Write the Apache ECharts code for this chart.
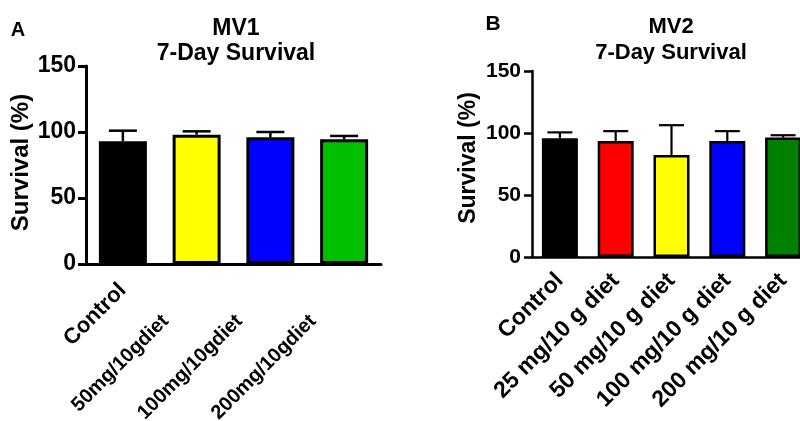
<!DOCTYPE html>
<html>
<head>
<meta charset="utf-8">
<script src="https://cdn.jsdelivr.net/npm/echarts@6/dist/echarts.min.js"></script>
<style>html,body{margin:0;padding:0;background:#fff;}#c{width:800px;height:421px;}</style>
</head>
<body>
<div id="c"></div>
<script>
// Panel A (MV1)
const catsA = ['Control', '50mg/10gdiet', '100mg/10gdiet', '200mg/10gdiet'];
const meanA = [93, 98, 96, 94.5];
const upperA = [101, 100.5, 100, 97];
const colorsA = ['#000000', '#ffff00', '#0000ff', '#00c000'];
// Panel B (MV2)
const catsB = ['Control', '25 mg/10 g diet', '50 mg/10 g diet', '100 mg/10 g diet', '200 mg/10 g diet'];
const meanB = [95.7, 93.5, 82.3, 93.5, 96.3];
const upperB = [100.5, 101.5, 106.3, 101.5, 98.2];
const colorsB = ['#000000', '#ff0000', '#ffff00', '#0000ff', '#008000'];
const yTicks = [0, 50, 100, 150];

const FONT = 'Liberation Sans, Arial, sans-serif';
const chart = echarts.init(document.getElementById('c'));

function errSeries(idx, means, uppers, half, lw) {
  return {
    type: 'custom', xAxisIndex: idx, yAxisIndex: idx, z: 5,
    data: means.map((m, i) => [i, m, uppers[i]]),
    renderItem: function (params, api) {
      const base = api.coord([api.value(0), api.value(1)]);
      const top = api.coord([api.value(0), api.value(2)]);
      const st = { stroke: '#000', lineWidth: lw, fill: null };
      return {
        type: 'group',
        children: [
          { type: 'line', shape: { x1: top[0], y1: base[1], x2: top[0], y2: top[1] }, style: st },
          { type: 'line', shape: { x1: top[0] - half, y1: top[1], x2: top[0] + half, y2: top[1] }, style: st }
        ]
      };
    }
  };
}

function yAxisCfg(idx, fs, nameFs, gap, lw, margin, shift) {
  return {
    gridIndex: idx, type: 'value', min: 0, max: 150, interval: 50,
    name: 'Survival (%)', nameLocation: 'middle', nameGap: gap, nameRotate: 90,
    nameTextStyle: { fontSize: nameFs, fontWeight: 'bold', color: '#000', fontFamily: FONT, padding: [0, 0, 0, shift] },
    axisLine: { show: true, lineStyle: { color: '#000', width: lw } },
    axisTick: { show: true, length: 8, lineStyle: { color: '#000', width: lw } },
    splitLine: { show: false },
    axisLabel: { fontSize: fs, fontWeight: 'bold', color: '#000', fontFamily: FONT, margin: margin,
      formatter: v => yTicks.indexOf(v) >= 0 ? String(v) : '' }
  };
}

const option = {
  animation: false,
  backgroundColor: '#fff',
  grid: [
    { left: 86, right: 419, top: 66, bottom: 157, outerBoundsMode: 'none', containLabel: false },
    { left: 532, right: -11, top: 71, bottom: 164, outerBoundsMode: 'none', containLabel: false }
  ],
  xAxis: [
    {
      gridIndex: 0, type: 'category', data: catsA,
      axisLine: { lineStyle: { color: '#000', width: 3 } },
      axisTick: { alignWithLabel: true, length: 7, lineStyle: { color: '#000', width: 3 } },
      axisLabel: {
        interval: 0, rotate: 45, margin: 23,
        fontSize: 20, fontWeight: 'bold', color: '#000', fontFamily: FONT,
        formatter: (v, i) => i === 0 ? '{a|' + v + '}' : '{p|' + v + '}',
        rich: {
          a: { fontSize: 22, fontWeight: 'bold', color: '#000', fontFamily: FONT },
          p: { fontSize: 20, fontWeight: 'bold', color: '#000', fontFamily: FONT, padding: [0, 44, 0, 0] }
        }
      }
    },
    {
      gridIndex: 1, type: 'category', data: catsB,
      axisLine: { lineStyle: { color: '#000', width: 2.5 } },
      axisTick: { alignWithLabel: true, length: 7, lineStyle: { color: '#000', width: 2.5 } },
      axisLabel: { interval: 0, rotate: 45, margin: 20,
        fontSize: 23, fontWeight: 'bold', color: '#000', fontFamily: FONT }
    }
  ],
  yAxis: [
    yAxisCfg(0, 23, 24, 53, 3, 10, 5),
    yAxisCfg(1, 21, 23, 52, 2.5, 11, 12)
  ],
  series: [
    {
      type: 'bar', xAxisIndex: 0, yAxisIndex: 0, barWidth: 48,
      data: meanA.map((v, i) => ({ value: v, itemStyle: { color: colorsA[i] } })),
      itemStyle: { borderColor: '#000', borderWidth: 3 }
    },
    errSeries(0, meanA, upperA, 14, 2.5),
    {
      type: 'bar', xAxisIndex: 1, yAxisIndex: 1, barWidth: 36,
      data: meanB.map((v, i) => ({ value: v, itemStyle: { color: colorsB[i] } })),
      itemStyle: { borderColor: '#000', borderWidth: 2.5 }
    },
    errSeries(1, meanB, upperB, 12.5, 2.2)
  ],
  graphic: [
    { type: 'text', x: 18, y: 30, style: { text: 'A', font: 'bold 20px ' + FONT, fill: '#000', textAlign: 'center', textVerticalAlign: 'middle' } },
    { type: 'text', x: 493, y: 24, style: { text: 'B', font: 'bold 21px ' + FONT, fill: '#000', textAlign: 'center', textVerticalAlign: 'middle' } },
    { type: 'text', x: 236, y: 29, style: { text: 'MV1', font: 'bold 23px ' + FONT, fill: '#000', textAlign: 'center', textVerticalAlign: 'middle' } },
    { type: 'text', x: 236, y: 54, style: { text: '7-Day Survival', font: 'bold 23px ' + FONT, fill: '#000', textAlign: 'center', textVerticalAlign: 'middle' } },
    { type: 'text', x: 671, y: 27, style: { text: 'MV2', font: 'bold 22px ' + FONT, fill: '#000', textAlign: 'center', textVerticalAlign: 'middle' } },
    { type: 'text', x: 671, y: 53, style: { text: '7-Day Survival', font: 'bold 22px ' + FONT, fill: '#000', textAlign: 'center', textVerticalAlign: 'middle' } }
  ]
};
chart.setOption(option);
</script>
</body>
</html>
